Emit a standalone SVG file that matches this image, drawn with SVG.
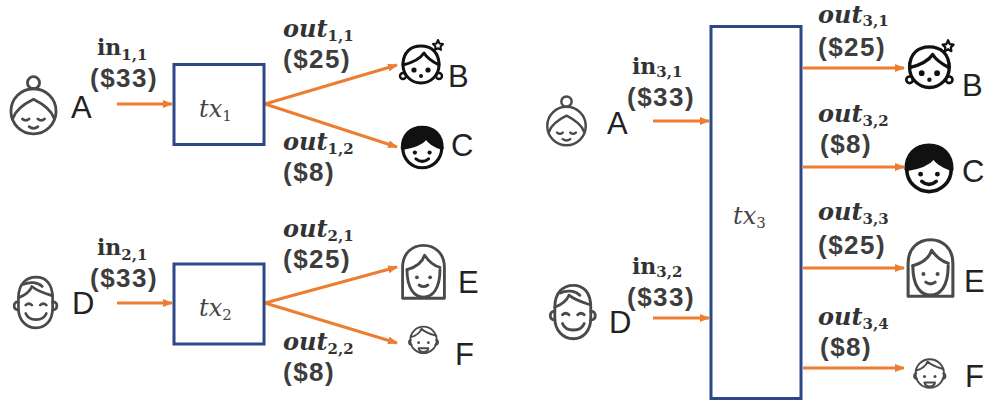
<svg xmlns="http://www.w3.org/2000/svg" xmlns:xlink="http://www.w3.org/1999/xlink" width="985" height="401" viewBox="0 0 985 401">
  <style>
    .tx { fill: #fff; stroke: #2E4787; stroke-width: 3; }
    .flow { fill: none; stroke: #ED7D31; stroke-width: 3; marker-end: url(#head); }
    .who { font-family: "Liberation Sans", Arial, sans-serif; font-size: 31px; fill: #222; }
    .inl { font-family: "DejaVu Serif", serif; font-weight: bold; font-size: 22px; fill: #333; }
    .outl { font-family: "DejaVu Serif", serif; font-weight: bold; font-style: italic; font-size: 24px; fill: #333; }
    .amt { font-family: "Liberation Sans", Arial, sans-serif; font-weight: bold; font-size: 26px; letter-spacing: 1.5px; fill: #3d3d3d; }
    .txl { font-family: "DejaVu Serif", serif; font-style: italic; font-size: 24px; fill: #444; }
    .sub { font-size: 15px; font-style: normal; }
    .line { fill: none; stroke: #4a4a4a; stroke-width: 2.6; stroke-linecap: round; stroke-linejoin: round; }
    .ink { fill: none; stroke: #111; stroke-width: 3; stroke-linecap: round; stroke-linejoin: round; }
  </style>
  <defs>
    <marker id="head" viewBox="0 0 10 8" refX="9" refY="4" markerWidth="10" markerHeight="8" markerUnits="userSpaceOnUse" orient="auto">
      <path d="M0,0 L10,4 L0,8 z" fill="#ED7D31"/>
    </marker>
    <!-- elderly woman with a hair bun -->
    <symbol id="grandma" viewBox="0 0 50 56">
      <g class="line">
        <circle cx="25" cy="7" r="5.5"/>
        <circle cx="25" cy="33" r="20.5"/>
        <path d="M6.5,39 C9,31 17,26 25,22 C33,26 41,31 43.5,39"/>
        <path d="M15,40 q3,2.5 6,0 M29,40 q3,2.5 6,0"/>
        <path d="M21,47 q4,3 8,0"/>
      </g>
    </symbol>
    <!-- girl with tiara and pigtails -->
    <symbol id="girl" viewBox="0 0 50 50">
      <g class="ink">
        <circle cx="24" cy="27" r="18" fill="#fff"/>
        <path d="M6,27 C6,14 14,8 24,8 C34,8 42,14 42,27 C36,24 30,20 27,15 C23,21 14,25 6,27 Z" fill="#fff"/>
        <path d="M41,2 L42.5,5.5 L46,6 L43.5,8.5 L44,12 L41,10.2 L38,12 L38.5,8.5 L36,6 L39.5,5.5 Z" stroke-width="2"/>
        <circle cx="6" cy="38" r="3" stroke-width="2.4"/>
        <circle cx="42" cy="38" r="3" stroke-width="2.4"/>
      </g>
      <g fill="#111">
        <circle cx="17" cy="32" r="2.6"/>
        <circle cx="31" cy="32" r="2.6"/>
        <circle cx="24" cy="38" r="2"/>
      </g>
    </symbol>
    <!-- boy with dark hair -->
    <symbol id="boy" viewBox="0 0 50 50">
      <g class="ink">
        <circle cx="25" cy="27" r="18.5" fill="#fff"/>
        <path d="M6,27 C6,14 14,7 25,7 C36,7 44,14 44,27 C38,25 32,22 29,17 C24,23 14,26 6,27 Z" fill="#111"/>
        <path d="M19,37 q6,5 12,0"/>
      </g>
      <g fill="#111">
        <circle cx="18" cy="31" r="2"/>
        <circle cx="32" cy="31" r="2"/>
      </g>
    </symbol>
    <!-- man with swept hair -->
    <symbol id="man" viewBox="0 0 50 56">
      <g class="line">
        <path d="M9,24 C9,10 17,4 26,4 C35,4 42,10 42,24 L42,34 C42,46 35,53 26,53 C17,53 9,46 9,34 Z"/>
        <path d="M9,24 C14,22 20,18 22,13 C28,18 36,20 42,22"/>
        <path d="M14,11 C20,8 28,9 32,13"/>
        <path d="M9,28 C4,27 3,35 9,36 M42,28 C47,27 48,35 42,36"/>
        <path d="M16,31 q3,-3 6,0 M30,31 q3,-3 6,0"/>
        <path d="M16,39 C19,47 33,47 36,39"/>
      </g>
    </symbol>
    <!-- woman with long hair -->
    <symbol id="woman" viewBox="0 0 50 56">
      <g class="line">
        <path d="M6,52 L6,24 C6,11 15,4 25,4 C35,4 44,11 44,24 L44,52 Z"/>
        <path d="M10,26 C10,44 17,51 25,51 C33,51 40,44 40,26"/>
        <path d="M10,26 C18,24 24,19 26,13 C30,19 36,23 40,24"/>
        <path d="M21,40 q4,3 8,0"/>
      </g>
      <g fill="#4a4a4a">
        <circle cx="19" cy="33" r="1.7"/>
        <circle cx="31" cy="33" r="1.7"/>
      </g>
    </symbol>
    <!-- small boy, laughing -->
    <symbol id="kid" viewBox="0 0 50 56">
      <g class="line" stroke-width="3">
        <circle cx="25" cy="30" r="19"/>
        <path d="M7,26 C14,24 20,20 22,14 C28,20 36,22 43,24"/>
        <path d="M7,30 C3,30 3,37 8,37 M43,30 C47,30 47,37 42,37"/>
        <path d="M18,42 L32,42 C31,49 19,49 18,42 Z"/>
      </g>
      <g fill="#4a4a4a">
        <circle cx="18" cy="34" r="2"/>
        <circle cx="32" cy="34" r="2"/>
      </g>
    </symbol>
  </defs>

  <rect width="985" height="401" fill="#fff"/>

  <!-- connectors -->
  <g id="connectors">
    <path class="flow" d="M117,104 H172"/>
    <path class="flow" d="M265,104 L397,65"/>
    <path class="flow" d="M265,104 L397,147"/>
    <path class="flow" d="M117,303 H172"/>
    <path class="flow" d="M265,303 L397,267"/>
    <path class="flow" d="M265,303 L397,343"/>
    <path class="flow" d="M653,121 H709"/>
    <path class="flow" d="M653,318 H709"/>
    <path class="flow" d="M803,68 H904"/>
    <path class="flow" d="M803,167 H904"/>
    <path class="flow" d="M803,268 H904"/>
    <path class="flow" d="M803,368 H904"/>
  </g>

  <!-- transactions -->
  <g id="tx1">
    <rect class="tx" x="174" y="64.5" width="90" height="80"/>
    <text class="txl" x="199" y="117">tx<tspan class="sub" dy="4">1</tspan></text>
  </g>
  <g id="tx2">
    <rect class="tx" x="174" y="264" width="90" height="80"/>
    <text class="txl" x="199" y="316">tx<tspan class="sub" dy="4">2</tspan></text>
  </g>
  <g id="tx3">
    <rect class="tx" x="711" y="26.5" width="90" height="372"/>
    <text class="txl" x="733" y="224">tx<tspan class="sub" dy="4">3</tspan></text>
  </g>

  <!-- people, left -->
  <g id="A1"><use href="#grandma" x="6" y="75" width="55" height="61.6"/><text class="who" x="71" y="118">A</text></g>
  <g id="B1"><use href="#girl" x="397" y="38" width="50" height="50"/><text class="who" x="448" y="87">B</text></g>
  <g id="C1"><use href="#boy" x="396" y="120" width="52.5" height="52.5"/><text class="who" x="451" y="156">C</text></g>
  <g id="D1"><use href="#man" x="9" y="273" width="52" height="58"/><text class="who" x="72" y="314">D</text></g>
  <g id="E1"><use href="#woman" x="396" y="241" width="55" height="61.6"/><text class="who" x="458" y="293">E</text></g>
  <g id="F1"><use href="#kid" x="406" y="319" width="35" height="39"/><text class="who" x="455" y="365">F</text></g>

  <!-- people, right -->
  <g id="A2"><use href="#grandma" x="543" y="95" width="47" height="52.6"/><text class="who" x="607" y="134">A</text></g>
  <g id="D2"><use href="#man" x="545" y="281" width="54.5" height="61"/><text class="who" x="609" y="333">D</text></g>
  <g id="B2"><use href="#girl" x="903" y="38" width="55" height="55"/><text class="who" x="962" y="96">B</text></g>
  <g id="C2"><use href="#boy" x="899" y="137" width="60" height="60"/><text class="who" x="962" y="182">C</text></g>
  <g id="E2"><use href="#woman" x="901" y="235" width="59" height="66"/><text class="who" x="964" y="292">E</text></g>
  <g id="F2"><use href="#kid" x="911" y="351" width="37.5" height="42"/><text class="who" x="965" y="387">F</text></g>

  <!-- input / output labels -->
  <g id="labels">
    <text class="inl" x="97" y="55">in<tspan class="sub" dy="5">1,1</tspan></text>
    <text class="amt" x="90" y="87">($33)</text>
    <text class="outl" x="283" y="37">out<tspan class="sub" dy="4">1,1</tspan></text>
    <text class="amt" x="283" y="68">($25)</text>
    <text class="outl" x="283" y="150">out<tspan class="sub" dy="4">1,2</tspan></text>
    <text class="amt" x="283" y="181">($8)</text>

    <text class="inl" x="97" y="255">in<tspan class="sub" dy="5">2,1</tspan></text>
    <text class="amt" x="90" y="287">($33)</text>
    <text class="outl" x="283" y="237">out<tspan class="sub" dy="4">2,1</tspan></text>
    <text class="amt" x="283" y="268">($25)</text>
    <text class="outl" x="283" y="350">out<tspan class="sub" dy="4">2,2</tspan></text>
    <text class="amt" x="283" y="381">($8)</text>

    <text class="inl" x="632" y="74">in<tspan class="sub" dy="3">3,1</tspan></text>
    <text class="amt" x="627" y="106">($33)</text>
    <text class="inl" x="632" y="274">in<tspan class="sub" dy="3">3,2</tspan></text>
    <text class="amt" x="627" y="306">($33)</text>

    <text class="outl" x="818" y="23">out<tspan class="sub" dy="3">3,1</tspan></text>
    <text class="amt" x="818" y="56">($25)</text>
    <text class="outl" x="818" y="122">out<tspan class="sub" dy="4">3,2</tspan></text>
    <text class="amt" x="820" y="153">($8)</text>
    <text class="outl" x="818" y="220">out<tspan class="sub" dy="4">3,3</tspan></text>
    <text class="amt" x="818" y="254">($25)</text>
    <text class="outl" x="818" y="325">out<tspan class="sub" dy="4">3,4</tspan></text>
    <text class="amt" x="820" y="356">($8)</text>
  </g>
</svg>
